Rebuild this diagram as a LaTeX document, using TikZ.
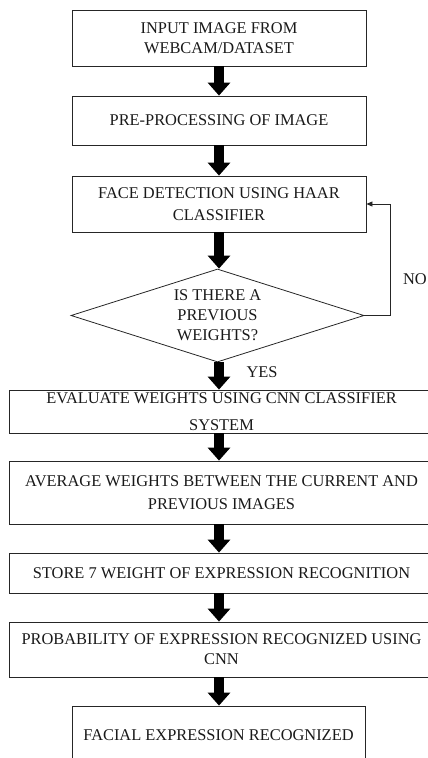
\documentclass[tikz,border=0pt]{standalone}
\usepackage{fontspec}
\setmainfont{Liberation Serif}
\usetikzlibrary{arrows.meta,shapes.geometric}
\begin{document}
\begin{tikzpicture}[x=1pt,y=-1pt,
  every node/.style={font=\fontsize{16.4}{20}\selectfont, text=black!90},
  procbox/.style={draw=black!85, line width=0.8pt, rectangle, inner sep=0pt, align=center},
  decbox/.style={draw=black!85, line width=0.8pt, diamond, inner sep=0pt, align=center, aspect=3.15},
  bigarrow/.style={line width=10pt, -{Triangle[width=22pt,length=13pt]}, black},
  thinarrow/.style={line width=0.8pt, black!85, -{Triangle[width=5pt,length=6pt]}}
]
\clip (0,0) rectangle (428,758);
\node[procbox, minimum width=294pt, minimum height=56pt] (b1) at (219,38) {INPUT IMAGE FROM\\WEBCAM/DATASET};
\node[procbox, minimum width=294pt, minimum height=49pt] (b2) at (219,120.5) {PRE-PROCESSING OF IMAGE};
\node[procbox, minimum width=294pt, minimum height=56pt] (b3) at (219,204) {FACE DETECTION USING HAAR\\[2pt]CLASSIFIER};
\node[decbox, minimum width=293pt, minimum height=93pt] (dia) at (217.5,315.5) {IS THERE A\\PREVIOUS\\WEIGHTS?};
\node[procbox, minimum width=425pt, minimum height=43pt] (b4) at (221.5,411.5) {EVALUATE WEIGHTS USING CNN CLASSIFIER\\[7pt]SYSTEM};
\node[procbox, minimum width=425pt, minimum height=63pt] (b5) at (221.5,492.5) {AVERAGE WEIGHTS BETWEEN THE CURRENT AND\\[3pt]PREVIOUS IMAGES};
\node[procbox, minimum width=425pt, minimum height=40pt] (b6) at (221.5,573) {STORE 7 WEIGHT OF EXPRESSION RECOGNITION};
\node[procbox, minimum width=425pt, minimum height=55pt] (b7) at (221.5,649.5) {PROBABILITY OF EXPRESSION RECOGNIZED USING\\CNN};
\node[procbox, minimum width=293pt, minimum height=58pt] (b8) at (218.5,735) {FACIAL EXPRESSION RECOGNIZED};

\node[anchor=east, inner sep=0pt] (no) at (427,279) {NO};
\node[inner sep=0pt] (yes) at (262,372) {YES};

\draw[bigarrow] (b1.south -| b1) -- (b2.north -| b1);
\draw[bigarrow] (b2.south -| b1) -- (b3.north -| b1);
\draw[bigarrow] (b3.south -| b1) -- (dia.north -| b1);
\draw[bigarrow] (dia.south -| b1) -- (b4.north -| b1);
\draw[bigarrow] (b4.south -| b1) -- (b5.north -| b1);
\draw[bigarrow] (b5.south -| b1) -- (b6.north -| b1);
\draw[bigarrow] (b6.south -| b1) -- (b7.north -| b1);
\draw[bigarrow] (b7.south -| b1) -- (b8.north -| b1);
\draw[thinarrow] (dia.east) -- ++(26,0) |- (b3.east);
\end{tikzpicture}
\end{document}
